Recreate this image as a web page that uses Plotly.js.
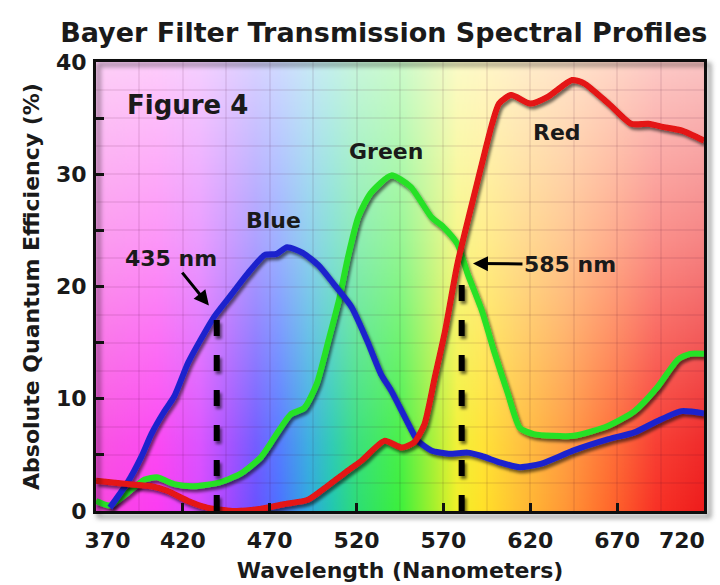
<!DOCTYPE html>
<html><head><meta charset="utf-8">
<script src="https://cdn.plot.ly/plotly-3.0.1.min.js"></script>
<style>
html,body{margin:0;padding:0;background:#fff;}
#chart{width:720px;height:585px;}
.js-line{filter:url(#ds);}
path.xlines-above,path.ylines-above{filter:url(#fs);}
</style>
</head><body>
<svg width="0" height="0" style="position:absolute">
<defs>
<filter id="ds" filterUnits="userSpaceOnUse" x="-2000" y="-2000" width="6000" height="6000">
<feDropShadow dx="2" dy="3" stdDeviation="1.6" flood-color="#000" flood-opacity="0.55"/>
</filter>
<filter id="fs" filterUnits="userSpaceOnUse" x="-2000" y="-2000" width="6000" height="6000">
<feDropShadow dx="4" dy="4" stdDeviation="2.5" flood-color="#000" flood-opacity="0.5"/>
</filter>
</defs></svg>
<div id="chart"></div>
<script>
// ---- data ----
const blueX  = [378, 388, 396, 402, 409, 415, 423, 430, 438, 448, 457, 467, 474, 480, 489, 498, 507, 517, 526, 534, 540, 548, 555, 563, 573, 584, 592, 603, 614, 626, 645, 665, 680, 693, 707, 720];
const blueY  = [0.3, 2.5, 4.8, 6.9, 8.8, 10.2, 13.2, 15.2, 17.3, 19.3, 21.1, 22.8, 22.9, 23.5, 23.0, 21.9, 20.2, 18.2, 15.2, 12.2, 10.7, 8.3, 6.3, 5.4, 5.1, 5.2, 4.9, 4.3, 3.9, 4.2, 5.4, 6.4, 7.0, 8.0, 8.9, 8.7];
const greenX = [370, 378, 388, 398, 405, 415, 426, 440, 453, 465, 475, 482, 490, 497, 504, 510, 515, 521, 528, 540, 551, 563, 570, 578, 584, 592, 599, 607, 614, 622, 645, 665, 680, 693, 705, 712, 720];
const greenY = [0.9, 0.5, 1.6, 2.8, 3.0, 2.4, 2.2, 2.5, 3.3, 4.8, 7.1, 8.6, 9.2, 11.3, 15.3, 18.9, 22.6, 26.2, 28.3, 29.9, 28.9, 26.2, 25.3, 23.8, 21.1, 17.9, 14.3, 10.5, 7.4, 6.85, 6.7, 7.6, 8.9, 11.0, 13.5, 14.0, 14.0];
const redX   = [370, 388, 402, 411, 423, 434, 450, 463, 478, 492, 503, 515, 523, 536, 546, 553, 559, 565, 571, 578, 586, 594, 598, 602, 609, 620, 630, 644, 651, 665, 678, 688, 697, 707, 720];
const redY   = [2.7, 2.4, 2.2, 1.8, 0.9, 0.3, 0.0, 0.15, 0.6, 1.0, 2.2, 3.6, 4.5, 6.25, 5.65, 6.1, 7.7, 11.9, 16.1, 22.0, 27.1, 32.1, 34.5, 36.3, 37.05, 36.3, 36.9, 38.4, 38.1, 36.3, 34.5, 34.5, 34.2, 33.9, 33.0];
const markerX   = [439.5, 580.5];          // dashed marker lines (as drawn)
const markerTop = [17.4, 20.8];
const xTickVals = [370, 420, 470, 520, 570, 620, 670, 720];
const xTickText = ['\u00a0\u00a0\u00a0370', '420', '470', '520', '570', '620', '670', ''];
const lastXTick = '720';   // drawn inward of the axis end, as in the reference
const yTickVals = [0, 5, 10, 15, 20, 25, 30, 35, 40];
const yTickText = ['0', '', '10', '', '20', '', '30', '', '40'];
const seriesNames = ['Blue', 'Green', 'Red'];

// spectrum background (style only)
const specNm  = [370, 405, 430, 448, 462, 476, 492, 506, 522, 545, 565, 578, 592, 612, 640, 665, 692, 720];
const specCol = ['#f848e0','#fc3cf2','#d848ff','#9c48ff','#6a52ff','#4a74ff','#30a8e0','#22c8b0','#2ee070','#3cf03c','#a8f02c','#f2f028','#ffe228','#ffc232','#ff9836','#ff6a2c','#f83226','#ee1c1c'];

function makeBg() {
  const W = 700, H = 400;
  const c = document.createElement('canvas');
  c.width = W; c.height = H;
  const g = c.getContext('2d');
  const lg = g.createLinearGradient(0, 0, W, 0);
  for (let i = 0; i < specNm.length; i++) lg.addColorStop((specNm[i] - 370) / 350, specCol[i]);
  g.fillStyle = lg; g.fillRect(0, 0, W, H);
  const wg = g.createLinearGradient(0, 0, 0, H);
  wg.addColorStop(0, 'rgba(255,255,255,0.74)');
  wg.addColorStop(0.4, 'rgba(255,255,255,0.46)');
  wg.addColorStop(0.85, 'rgba(255,255,255,0.07)');
  wg.addColorStop(1, 'rgba(255,255,255,0)');
  g.fillStyle = wg; g.fillRect(0, 0, W, H);
  return c.toDataURL('image/png');
}

const F = 'DejaVu Sans, Verdana, sans-serif';
const ink = '#1a1a1a';

const traces = [
  {x: greenX, y: greenY, name: seriesNames[1], mode: 'lines', line: {color: 'rgb(40,225,40)', width: 6, shape: 'spline', smoothing: 0.6}},
  {x: blueX,  y: blueY,  name: seriesNames[0], mode: 'lines', line: {color: 'rgb(28,36,205)', width: 6, shape: 'spline', smoothing: 0.6}},
  {x: redX,   y: redY,   name: seriesNames[2], mode: 'lines', line: {color: 'rgb(228,18,18)', width: 6, shape: 'spline', smoothing: 0.6}}
];
markerX.forEach((mx, i) => {
  traces.push({x: [mx, mx], y: [0, markerTop[i]], mode: 'lines', line: {color: '#000', width: 6, dash: '16px,19px'}});
});

const ann = (text, x, y, size) => ({text, x, y, xref: 'x', yref: 'y', showarrow: false,
  font: {family: F, size: size || 22, color: ink, weight: 700}});

const layout = {
  width: 720, height: 585,
  margin: {l: 96, r: 16, t: 62, b: 74},
  paper_bgcolor: '#fff', plot_bgcolor: 'rgba(0,0,0,0)',
  showlegend: false,
  title: {text: 'Bayer Filter Transmission Spectral Profiles', xref: 'container', x: 0.533, xanchor: 'center',
          yref: 'container', y: 0.944, yanchor: 'middle', font: {family: F, size: 27, color: ink, weight: 700}},
  xaxis: {range: [370, 720], tickvals: xTickVals, ticktext: xTickText, showgrid: false, zeroline: false,
          minor: {tickmode: 'linear', tick0: 370, dtick: 25, showgrid: true, gridcolor: 'rgba(60,0,40,0.08)', gridwidth: 2, ticks: ''},
          ticks: 'inside', ticklen: 8, tickwidth: 3, tickcolor: '#111',
          showline: true, linewidth: 3, linecolor: '#111', mirror: true,
          ticklabelstandoff: 8,
          tickfont: {family: F, size: 22, color: ink, weight: 700},
          title: {text: 'Wavelength (Nanometers)', standoff: 11, font: {family: F, size: 22, color: ink, weight: 700}}},
  yaxis: {range: [0, 40], tickvals: yTickVals, ticktext: yTickText, showgrid: false, zeroline: false,
          minor: {tickmode: 'linear', tick0: 0, dtick: 2.5, showgrid: true, gridcolor: 'rgba(60,0,40,0.08)', gridwidth: 2, ticks: ''},
          ticks: 'inside', ticklen: 8, tickwidth: 3, tickcolor: '#111',
          showline: true, linewidth: 3, linecolor: '#111', mirror: true,
          ticklabelstandoff: 2,
          tickfont: {family: F, size: 22, color: ink, weight: 700},
          title: {text: 'Absolute Quantum Efficiency (%)', standoff: 11, font: {family: F, size: 22, color: ink, weight: 700}}},
  images: [{source: makeBg(), xref: 'x', yref: 'y', x: 370, y: 40, sizex: 350, sizey: 40,
            xanchor: 'left', yanchor: 'top', sizing: 'stretch', layer: 'below'}],
  annotations: [
    ann('Figure 4', 422.4, 36.2, 26),
    ann(seriesNames[0], 471.9, 25.9),
    ann(seriesNames[1], 537, 32.0),
    ann(seriesNames[2], 635.4, 33.7),
    {text: lastXTick, x: xTickVals[xTickVals.length - 1], xref: 'x', xanchor: 'right', xshift: 3,
     y: 0, yref: 'paper', yanchor: 'middle', yshift: -29, showarrow: false,
     font: {family: F, size: 22, color: ink, weight: 700}},
    {text: '435 nm', x: 435, y: 18.3, xref: 'x', yref: 'y', showarrow: true, ax: -38, ay: -47,
     arrowhead: 2, arrowsize: 1, arrowwidth: 3, arrowcolor: '#000', standoff: 0,
     font: {family: F, size: 22, color: ink, weight: 700}},
    {text: '585 nm', x: 587, y: 22.05, xref: 'x', yref: 'y', showarrow: true, ax: 97, ay: 1,
     arrowhead: 2, arrowsize: 1, arrowwidth: 3, arrowcolor: '#000', standoff: 0,
     font: {family: F, size: 22, color: ink, weight: 700}}
  ]
};

Plotly.newPlot('chart', traces, layout, {staticPlot: true, displayModeBar: false});
</script>
</body></html>
